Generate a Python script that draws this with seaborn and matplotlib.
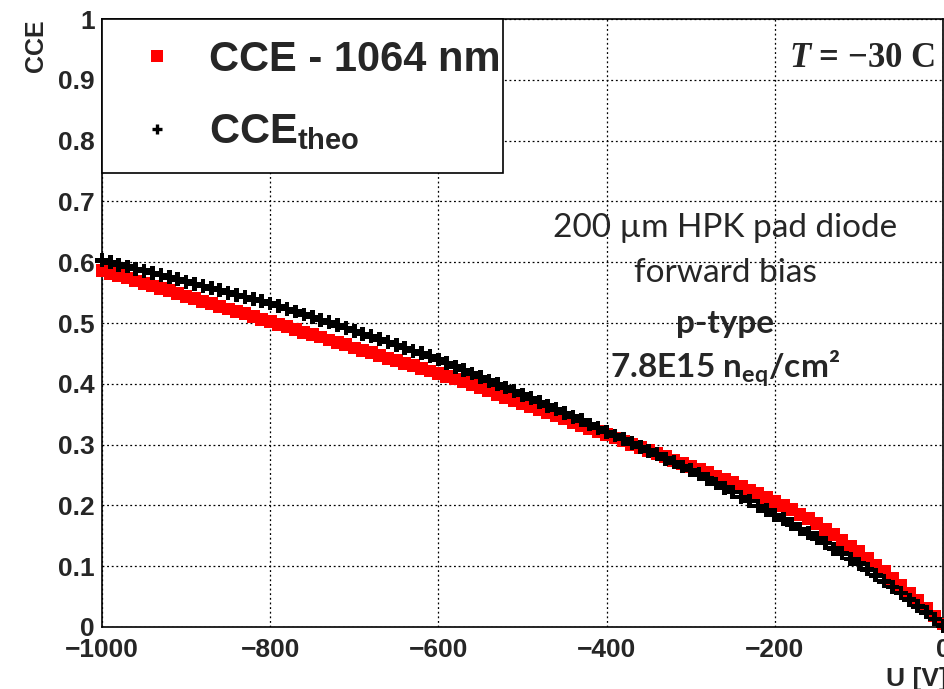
import matplotlib
matplotlib.use("Agg")
import matplotlib.pyplot as plt
import seaborn as sns
from matplotlib.lines import Line2D
from matplotlib.ticker import MultipleLocator

# ---------------- data ----------------
voltage = [
    -1000, -990, -980, -970, -960, -950, -940, -930, -920, -910,
    -900, -890, -880, -870, -860, -850, -840, -830, -820, -810,
    -800, -790, -780, -770, -760, -750, -740, -730, -720, -710,
    -700, -690, -680, -670, -660, -650, -640, -630, -620, -610,
    -600, -590, -580, -570, -560, -550, -540, -530, -520, -510,
    -500, -490, -480, -470, -460, -450, -440, -430, -420, -410,
    -400, -390, -380, -370, -360, -350, -340, -330, -320, -310,
    -300, -290, -280, -270, -260, -250, -240, -230, -220, -210,
    -200, -190, -180, -170, -160, -150, -140, -130, -120, -110,
    -100, -90, -80, -70, -60, -50, -40, -30, -20, -10, 0,
]

cce_1064 = [
    0.586, 0.582, 0.578, 0.574, 0.569, 0.565, 0.561, 0.557, 0.553, 0.548,
    0.544, 0.540, 0.536, 0.532, 0.527, 0.523, 0.519, 0.515, 0.511, 0.506,
    0.502, 0.498, 0.494, 0.489, 0.485, 0.481, 0.477, 0.472, 0.468, 0.464,
    0.459, 0.455, 0.451, 0.446, 0.442, 0.438, 0.434, 0.430, 0.425, 0.421,
    0.417, 0.412, 0.408, 0.403, 0.398, 0.393, 0.388, 0.383, 0.378, 0.373,
    0.368, 0.363, 0.358, 0.353, 0.347, 0.342, 0.337, 0.332, 0.326, 0.321,
    0.316, 0.311, 0.306, 0.300, 0.295, 0.290, 0.285, 0.280, 0.274, 0.269,
    0.264, 0.259, 0.254, 0.248, 0.243, 0.237, 0.231, 0.225, 0.219, 0.213,
    0.207, 0.200, 0.193, 0.185, 0.178, 0.170, 0.161, 0.152, 0.143, 0.133,
    0.124, 0.113, 0.102, 0.091, 0.080, 0.068, 0.056, 0.043, 0.031, 0.018, 0.005,
]

cce_theo = [
    0.603, 0.600, 0.596, 0.593, 0.589, 0.586, 0.582, 0.579, 0.575, 0.572,
    0.568, 0.564, 0.561, 0.557, 0.554, 0.550, 0.546, 0.543, 0.539, 0.536,
    0.532, 0.528, 0.523, 0.519, 0.514, 0.510, 0.505, 0.501, 0.496, 0.492,
    0.487, 0.482, 0.478, 0.473, 0.469, 0.464, 0.459, 0.454, 0.450, 0.445,
    0.440, 0.434, 0.428, 0.423, 0.417, 0.411, 0.405, 0.399, 0.394, 0.388,
    0.382, 0.376, 0.370, 0.364, 0.358, 0.352, 0.346, 0.340, 0.333, 0.327,
    0.321, 0.315, 0.309, 0.302, 0.296, 0.290, 0.284, 0.277, 0.271, 0.264,
    0.258, 0.251, 0.244, 0.236, 0.229, 0.222, 0.214, 0.207, 0.199, 0.192,
    0.184, 0.177, 0.169, 0.161, 0.154, 0.146, 0.138, 0.129, 0.121, 0.112,
    0.104, 0.095, 0.085, 0.075, 0.066, 0.056, 0.045, 0.034, 0.024, 0.013, 0.002,
]

x_ticks = [-1000, -800, -600, -400, -200, 0]
x_tick_labels = ["\u22121000", "\u2212800", "\u2212600", "\u2212400", "\u2212200", "0"]
y_ticks = [0, 0.1, 0.2, 0.3, 0.4, 0.5, 0.6, 0.7, 0.8, 0.9, 1.0]
y_tick_labels = ["0", "0.1", "0.2", "0.3", "0.4", "0.5", "0.6", "0.7", "0.8", "0.9", "1"]

legend_labels = ["CCE - 1064 nm", "CCE$_{theo}$"]
info_lines = ["200 \u00b5m HPK pad diode", "forward bias", "p-type",
              "7.8E15 n$_{\\mathsf{eq}}$/cm\u00b2"]
temp_label = "$\\mathit{T}$ = \u221230 C"

# ---------------- style ----------------
sns.set_style("white")
plt.rcParams.update({
    "font.family": ["Liberation Sans", "DejaVu Sans"],
    "font.weight": "bold",
    "mathtext.fontset": "custom",
    "mathtext.bf": "Liberation Sans:bold",
    "mathtext.rm": "Liberation Sans:bold",
    "mathtext.sf": "Lato:bold",
    "mathtext.it": "Liberation Serif:bold:italic",
    "mathtext.default": "bf",
    "axes.edgecolor": "black",
    "axes.linewidth": 1.2,
})

fig = plt.figure(figsize=(9.45, 6.89), dpi=100)
ax = fig.add_axes([0.1079, 0.0900, 0.8900, 0.8824])

sns.scatterplot(x=voltage, y=cce_1064, marker="s", s=85, color="#ff0000",
                edgecolor="none", linewidth=0, ax=ax, zorder=3, clip_on=False)
sns.scatterplot(x=voltage, y=cce_theo, marker="P", s=100, color="black",
                edgecolor="none", linewidth=0, ax=ax, zorder=4, clip_on=False)

ax.set_xlim(-1000, 0)
ax.set_ylim(0, 1)
ax.set_xticks(x_ticks)
ax.set_xticklabels(x_tick_labels)
ax.set_yticks(y_ticks)
ax.set_yticklabels(y_tick_labels)
ax.xaxis.set_minor_locator(MultipleLocator(50))
ax.yaxis.set_minor_locator(MultipleLocator(0.02))

ax.grid(True, which="major", color="black", linestyle=(0, (1.5, 2.2)), linewidth=0.9)
ax.set_axisbelow(True)

ax.tick_params(axis="x", which="major", direction="in", length=14, width=1.1,
               pad=8, labelsize=19, top=False)
ax.tick_params(axis="x", which="minor", direction="in", length=7, width=1.1, top=False)
ax.tick_params(axis="y", which="major", direction="in", length=18, width=1.1,
               pad=5, labelsize=19, right=False)
ax.tick_params(axis="y", which="minor", direction="in", length=9, width=1.1, right=False)

ax.set_ylabel("CCE", loc="top", fontsize=18, fontweight="bold")
ax.yaxis.set_label_coords(-0.064, 1.0)
ax.set_xlabel("U [V]", loc="right", fontsize=19, fontweight="bold")
ax.xaxis.set_label_coords(1.006, -0.066)

# legend
h1 = Line2D([], [], marker="s", color="#ff0000", linestyle="none",
            markersize=9, markeredgewidth=0)
h2 = Line2D([], [], marker="+", color="black", linestyle="none",
            markersize=6.5, markeredgewidth=2.4)
leg = ax.legend([h1, h2], legend_labels, loc="upper left",
                bbox_to_anchor=(0, 0, 0.477, 1.0), mode="expand",
                borderaxespad=0, frameon=True, fancybox=False,
                edgecolor="black", framealpha=1, fontsize=30,
                borderpad=0.5, handlelength=1.65, handletextpad=0.42,
                labelspacing=0.78)
leg.get_frame().set_linewidth(1.2)
leg.set_zorder(10)

# annotation block
info_y = [0.641, 0.567, 0.484, 0.410]
info_w = ["normal", "normal", "bold", "bold"]
for txt, yy, ww in zip(info_lines, info_y, info_w):
    ax.text(0.741, yy, txt, transform=ax.transAxes, ha="center", va="baseline",
            fontfamily=["Lato", "DejaVu Sans"], fontweight=ww, fontsize=24, zorder=6)

ax.text(0.9905, 0.921, temp_label, transform=ax.transAxes, ha="right", va="baseline",
        fontfamily=["Liberation Serif", "DejaVu Serif"], fontweight="bold",
        fontsize=25, zorder=6)

fig.savefig("out.png", dpi=100)
